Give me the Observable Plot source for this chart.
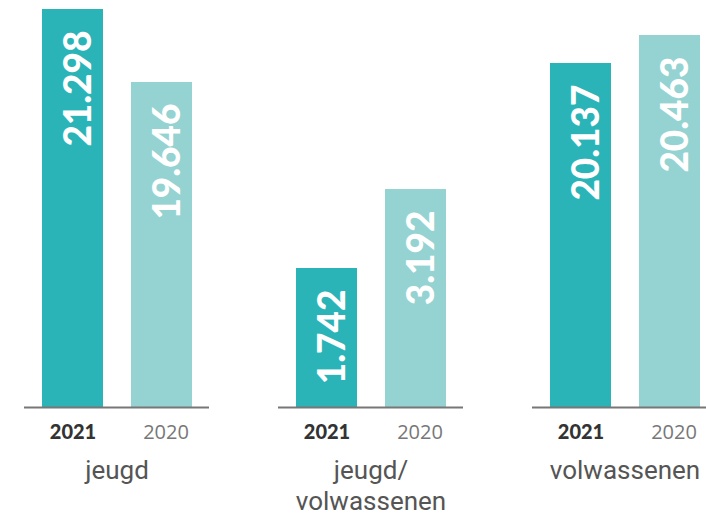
<!DOCTYPE html>
<html>
<head>
<meta charset="utf-8">
<script src="https://cdn.jsdelivr.net/npm/d3@7"></script>
<script src="https://cdn.jsdelivr.net/npm/@observablehq/plot@0.6"></script>
<style>
  html, body { margin: 0; padding: 0; background: #fff; overflow: hidden; }
  #chart svg { display: block; }
</style>
</head>
<body>
<div id="chart"></div>
<script>
// Groups (facets) and their two-line labels
const groups = ["jeugd", "jeugd/volwassenen", "volwassenen"];
const groupLabels = ["jeugd", "jeugd/\nvolwassenen", "volwassenen"];
const years = ["2021", "2020"];

// Printed values per year
const values2021 = [21298, 1742, 20137];
const values2020 = [19646, 3192, 20463];

// Bar lengths as drawn in the picture (not to scale with the printed values),
// expressed in the same unit as the tallest bar (21.298)
const drawn2021 = [21298, 7438, 18408];
const drawn2020 = [17391, 11665, 19906];

const colors = ["#2bb4b7", "#95d3d2"];

const rows = [];
groups.forEach((g, i) => {
  rows.push({group: g, year: "2021", value: values2021[i], drawn: drawn2021[i]});
  rows.push({group: g, year: "2020", value: values2020[i], drawn: drawn2020[i]});
});

const nl = d3.formatLocale({decimal: ",", thousands: ".", grouping: [3], currency: ["€", ""]});
const fmt = nl.format(",d");

const chart = Plot.plot({
  width: 706,
  height: 518,
  marginTop: 9,
  marginBottom: 111,
  marginLeft: 0,
  marginRight: 0,
  style: {background: "#fff"},
  fx: {domain: groups, range: [23, 717], paddingInner: 0.273, paddingOuter: 0, axis: null},
  x: {domain: years, paddingInner: 0.315, paddingOuter: 0.19, axis: null},
  y: {domain: [0, 21298], axis: null},
  color: {domain: years, range: colors},
  marks: [
    Plot.barY(rows, {fx: "group", x: "year", y: "drawn", fill: "year"}),
    Plot.ruleY([0], {stroke: "#777", strokeWidth: 2}),
    Plot.text(rows, {
      fx: "group", x: "year", y: "drawn",
      text: d => fmt(d.value),
      rotate: -90, textAnchor: "end", lineAnchor: "middle",
      dy: 21, dx: 6,
      fill: "#fff", fontSize: 37, fontWeight: 900,
      fontFamily: "Lato"
    }),
    Plot.text(rows.filter(d => d.year === "2021"), {
      fx: "group", x: "year", text: "year", frameAnchor: "bottom",
      lineAnchor: "middle", dy: 25,
      fill: "#333", fontSize: 20, fontWeight: 900, fontFamily: "Lato",
      style: "letter-spacing:0.8px"
    }),
    Plot.text(rows.filter(d => d.year === "2020"), {
      fx: "group", x: "year", text: "year", frameAnchor: "bottom",
      lineAnchor: "middle", dy: 25, dx: 4,
      fill: "#777", fontSize: 20, fontWeight: 400, fontFamily: "Open Sans",
      style: "letter-spacing:2px"
    }),
    Plot.text(groups, {
      fx: d => d, text: (d, i) => groupLabels[i], frameAnchor: "bottom",
      lineAnchor: "top", dy: 49, lineHeight: 1.2,
      fill: "#555", fontSize: 26, fontWeight: 400, fontFamily: "Roboto",
      style: "letter-spacing:1.2px"
    })
  ]
});
document.getElementById("chart").appendChild(chart);
</script>
</body>
</html>
